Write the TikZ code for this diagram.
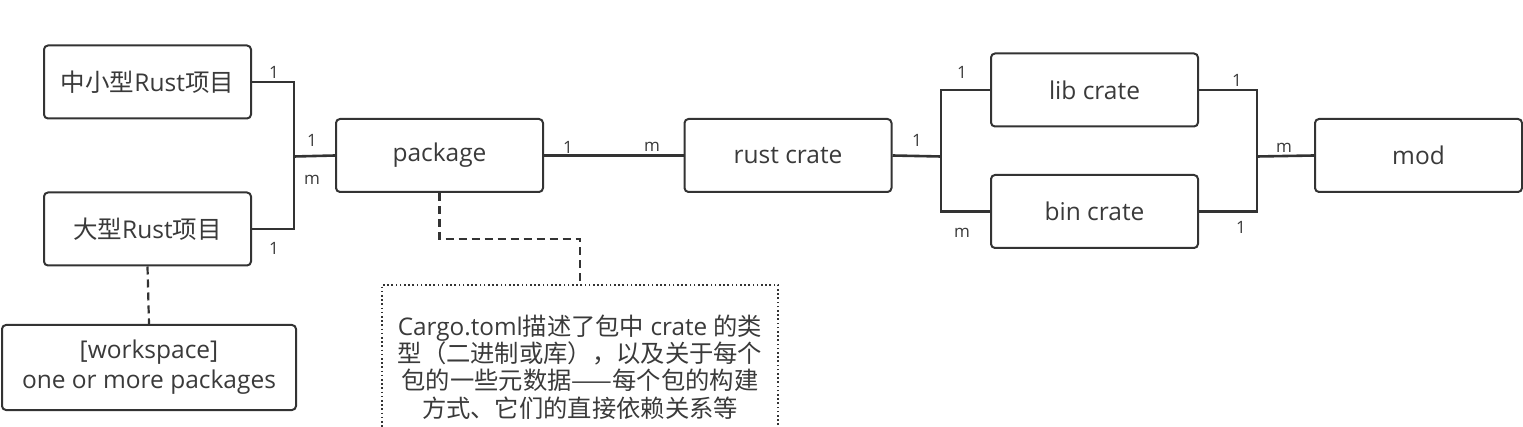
\documentclass[tikz,border=0pt]{standalone}
\usepackage{fontspec}
\setmainfont{Open Sans}
\newfontfamily\cjk{Noto Sans CJK SC}
\definecolor{linec}{HTML}{333333}
\definecolor{txtc}{HTML}{3A3A3A}
\begin{document}
\begin{tikzpicture}[x=1pt,y=-1pt,
  box/.style={draw=linec, line width=2pt, rounded corners=4pt, text=txtc,
    minimum width=207pt, minimum height=73pt, inner sep=0pt,
    font=\fontsize{24.5}{30}\selectfont},
  conn/.style={draw=linec, line width=2.6pt},
  dashconn/.style={draw=linec, line width=2.2pt, dash pattern=on 8pt off 5pt},
  lbl/.style={text=txtc, font=\fontsize{17}{19}\selectfont, inner sep=0pt},
  notebox/.style={draw=linec, line width=1.6pt, dash pattern=on 1.6pt off 2.6pt,
    minimum width=396pt, minimum height=164pt, text=txtc, align=center,
    font=\fontsize{24.3}{27.4}\selectfont, inner sep=0pt}]
\useasboundingbox (0,0) rectangle (1523,427);
% boxes
\node[box] (A) at (147.5,82) {{\cjk 中小型}Rust{\cjk 项目}};
\node[box] (B) at (147.5,229) {{\cjk 大型}Rust{\cjk 项目}};
\node[box, minimum width=294pt, minimum height=85pt, align=center] (W) at (149,367.5)
  {[workspace]\\one or more packages};
\node[box] (P) at (439.5,155.5) {package};
\node[box] (R) at (788,155.5) {rust crate};
\node[box] (L) at (1094.5,90) {lib crate};
\node[box] (Bn) at (1094.5,211.5) {bin crate};
\node[box] (M) at (1418.5,155.5) {mod};
\node[notebox] (N) at (580,367)
  {Cargo.toml{\cjk 描述了包中} crate {\cjk 的类}\\
   {\cjk 型（二进制或库），以及关于每个}\\
   {\cjk 包的一些元数据——每个包的构建}\\
   {\cjk 方式、它们的直接依赖关系等}};
% junctions
\coordinate (J1) at (294,156.5);
\coordinate (J2) at (941,156.5);
\coordinate (J3) at (1257,156.5);
\coordinate (D1) at (439.5,239);
\coordinate (D2) at (580,239);
% connectors
\draw[conn] (A.east) -| (J1);
\draw[conn] (B.east) -| (J1);
\draw[conn] (J1) -- (P.west);
\draw[conn] (P.east) -- (R.west);
\draw[conn] (R.east) -- (J2);
\draw[conn] (J2) |- (L.west);
\draw[conn] (J2) |- (Bn.west);
\draw[conn] (L.east) -| (J3);
\draw[conn] (Bn.east) -| (J3);
\draw[conn] (J3) -- (M.west);
\draw[dashconn] (B.south) -- (W.north);
\draw[dashconn] (P.south) -- (D1) -- (D2) -- (N.north);
% labels
\node[lbl] (l1) at (274,72) {1};
\node[lbl] (l2) at (312,140) {1};
\node[lbl] (l3) at (312,180) {m};
\node[lbl] (l4) at (274,248) {1};
\node[lbl] (l5) at (568,147) {1};
\node[lbl] (l6) at (652,147) {m};
\node[lbl] (l7) at (917,140) {1};
\node[lbl] (l8) at (962,72) {1};
\node[lbl] (l9) at (962,233) {m};
\node[lbl] (l10) at (1237,80) {1};
\node[lbl] (l11) at (1284,148) {m};
\node[lbl] (l12) at (1241,227) {1};
\end{tikzpicture}
\end{document}
